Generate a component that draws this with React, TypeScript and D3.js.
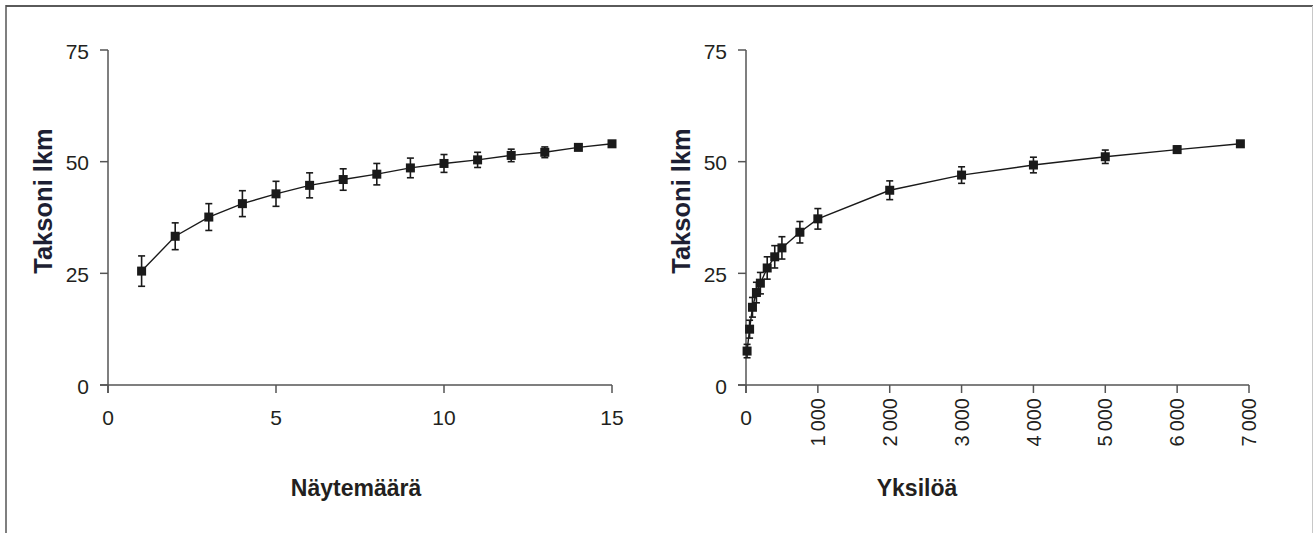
import React from "react";
import * as d3 from "d3";

// ---- Data ----
const samplesX = [1, 2, 3, 4, 5, 6, 7, 8, 9, 10, 11, 12, 13, 14, 15];
const samplesY = [25.5, 33.3, 37.6, 40.6, 42.8, 44.7, 46.0, 47.2, 48.6, 49.6, 50.4, 51.4, 52.1, 53.2, 54.0];
const samplesErr = [3.4, 3.0, 3.0, 2.9, 2.8, 2.8, 2.4, 2.4, 2.2, 2.0, 1.7, 1.4, 1.2, 0.5, 0];

const indivX = [15, 50, 90, 145, 200, 295, 400, 500, 750, 1000, 2000, 3000, 4000, 5000, 6000, 6880];
const indivY = [7.6, 12.5, 17.4, 20.7, 22.8, 26.2, 28.7, 30.7, 34.2, 37.2, 43.6, 47.0, 49.25, 51.1, 52.7, 54.0];
const indivErr = [1.5, 2.0, 2.2, 2.3, 2.4, 2.5, 2.5, 2.5, 2.4, 2.3, 2.1, 1.85, 1.75, 1.5, 0.8, 0];

const yTicks = [0, 25, 50, 75];
const leftXTicks = [0, 5, 10, 15];
const rightXTicks = [0, 1000, 2000, 3000, 4000, 5000, 6000, 7000];

const yTitle = "Taksoni lkm";
const leftXTitle = "Näytemäärä";
const rightXTitle = "Yksilöä";

const FONT = "'Liberation Sans', Arial, Helvetica, sans-serif";
const AXIS = "#555";
const TXT = "#231f20";
const MARK = "#1a1a1a";

const fmtThousands = (v: number) =>
  v === 0 ? "0" : d3.format(",")(v).replace(/,/g, "\u2009");

function Panel({
  xs, ys, es, xDomain, xRange, xTicks, xTitle, xTitleX, rotate, yAxisX,
}: {
  xs: number[]; ys: number[]; es: number[]; xDomain: [number, number];
  xRange: [number, number]; xTicks: number[]; xTitle: string; xTitleX: number;
  rotate: boolean; yAxisX: number;
}) {
  const x = d3.scaleLinear().domain(xDomain).range(xRange);
  const y = d3.scaleLinear().domain([0, 75]).range([385, 50]);
  const pts = xs.map((v, i) => [x(v), y(ys[i])] as [number, number]);
  const line = d3.line().curve(d3.curveLinear)(pts) || "";
  const tl = 8;
  const y0 = y(0);
  const xEnd = x(xTicks[xTicks.length - 1]);
  return (
    <g>
      {/* y axis */}
      <line x1={yAxisX} x2={yAxisX} y1={y(75)} y2={y0 + tl} stroke={AXIS} strokeWidth={1.5} />
      {yTicks.map((t) => (
        <g key={"y" + t}>
          <line x1={yAxisX - tl} x2={yAxisX} y1={y(t)} y2={y(t)} stroke={AXIS} strokeWidth={1.5} />
          <text x={yAxisX - 19} y={y(t) + 1} dy="0.36em" textAnchor="end" fontSize={21} fill={TXT} fontFamily={FONT}>
            {t}
          </text>
        </g>
      ))}
      {/* x axis */}
      <line x1={yAxisX - tl} x2={xEnd} y1={y0} y2={y0} stroke={AXIS} strokeWidth={1.5} />
      {xTicks.map((t) => (
        <g key={"x" + t}>
          <line x1={x(t)} x2={x(t)} y1={y0} y2={y0 + tl} stroke={AXIS} strokeWidth={1.5} />
          {rotate && t !== 0 ? (
            <text
              transform={`translate(${x(t)},${y0 + 13}) rotate(-90)`}
              dy="0.36em" textAnchor="end" fontSize={20} fill={TXT} fontFamily={FONT}
            >
              {fmtThousands(t)}
            </text>
          ) : (
            <text x={x(t)} y={y0 + 40} textAnchor="middle" fontSize={21} fill={TXT} fontFamily={FONT}>
              {fmtThousands(t)}
            </text>
          )}
        </g>
      ))}
      {/* titles */}
      <text
        transform={`translate(${yAxisX - 56},${201}) rotate(-90)`}
        textAnchor="middle" fontSize={25.5} fontWeight="bold" fill="#1e1f33" fontFamily={FONT}
      >
        {yTitle}
      </text>
      <text
        x={xTitleX} y={496} textAnchor="middle" fontSize={23}
        fontWeight="bold" fill={TXT} fontFamily={FONT}
      >
        {xTitle}
      </text>
      {/* series */}
      <path d={line} fill="none" stroke={MARK} strokeWidth={1.4} />
      {pts.map(([px, py], i) => {
        const top = y(ys[i] + es[i]);
        const bot = y(ys[i] - es[i]);
        return (
          <g key={"p" + i}>
            {es[i] > 0 && (
              <g stroke={MARK} strokeWidth={1.6}>
                <line x1={px} x2={px} y1={top} y2={bot} />
                <line x1={px - 3.5} x2={px + 3.5} y1={top} y2={top} />
                <line x1={px - 3.5} x2={px + 3.5} y1={bot} y2={bot} />
              </g>
            )}
            <rect x={px - 4.5} y={py - 4.5} width={9} height={9} fill={MARK} />
          </g>
        );
      })}
    </g>
  );
}

export default function App() {
  return (
    <svg
      width={1313}
      height={533}
      style={{ position: "absolute", left: 0, top: 0, background: "#fff" }}
    >
      <rect x={0} y={0} width={1313} height={533} fill="#fff" />
      {/* frame */}
      <line x1={6} x2={1313} y1={6} y2={6} stroke="#5a5a5a" strokeWidth={2} />
      <line x1={6} x2={6} y1={5} y2={533} stroke="#555" strokeWidth={1.5} />
      <line x1={1312.5} x2={1312.5} y1={6} y2={533} stroke="#c8c8c8" strokeWidth={1} />
      <Panel
        xs={samplesX} ys={samplesY} es={samplesErr} xDomain={[0, 15]} xRange={[108, 612]}
        xTicks={leftXTicks} xTitle={leftXTitle} xTitleX={356} rotate={false} yAxisX={108}
      />
      <Panel
        xs={indivX} ys={indivY} es={indivErr} xDomain={[0, 7000]} xRange={[746, 1249]}
        xTicks={rightXTicks} xTitle={rightXTitle} xTitleX={917} rotate={true} yAxisX={746}
      />
    </svg>
  );
}
